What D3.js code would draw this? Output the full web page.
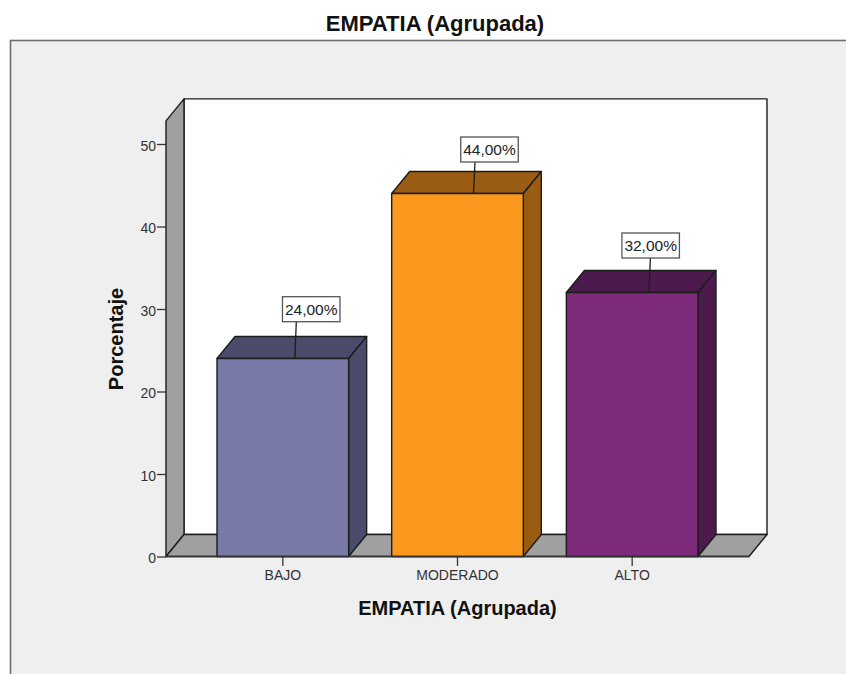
<!DOCTYPE html>
<html>
<head>
<meta charset="utf-8">
<script src="https://cdn.jsdelivr.net/npm/d3@7/dist/d3.min.js"></script>
<style>
html,body{margin:0;padding:0;background:#fff;overflow:hidden}
svg{display:block}
text{font-family:"Liberation Sans",Arial,sans-serif}
</style>
</head>
<body>
<svg id="chart" width="846" height="674"></svg>
<script>
const categories = ["BAJO", "MODERADO", "ALTO"];
const percentages = [24, 44, 32];
const valueLabels = ["24,00%", "44,00%", "32,00%"];
const yTicks = [0, 10, 20, 30, 40, 50];
const frontColors = ["#7a7aa8", "#fb991f", "#7d2a7b"];
const sideColors = ["#4b4b6b", "#995c12", "#4c1a4c"];
const chartTitle = "EMPATIA (Agrupada)";
const xTitle = "EMPATIA (Agrupada)";
const yTitle = "Porcentaje";

// Callout placement relative to each bar's centre and top edge
const calloutDx = [28.4, 32, 18.5];
const calloutRise = [61.8, 56.5, 59.5];
const leaderDx = [12, 16, 16.7];

const svg = d3.select("#chart");
const depthX = 18, depthY = 22;
const plot = {left: 166, right: 749, bottom: 556.5};

const y = d3.scaleLinear().domain([0, 50]).range([plot.bottom, 144]);
const yMax = 52.8;
const x = d3.scaleBand().domain(categories).range([plot.left, plot.right])
  .paddingInner(0.2464).paddingOuter(0.292);

const poly = (pts, fill) => svg.append("path")
  .attr("d", "M" + pts.map(p => p.join(",")).join("L") + "Z")
  .attr("fill", fill).attr("stroke", "#1c1c1c").attr("stroke-width", 1.4)
  .attr("stroke-linejoin", "round");

// Window background and grey chart frame
svg.append("rect").attr("x", 10.5).attr("y", 40.5).attr("width", 850).attr("height", 650)
  .attr("fill", "#efefef").attr("stroke", "#6e6e6e").attr("stroke-width", 1.6);

svg.append("text").attr("x", 435).attr("y", 31).attr("text-anchor", "middle")
  .attr("font-size", 22).attr("font-weight", "bold").attr("fill", "#111").text(chartTitle);

// Three-dimensional room: back wall, side wall and floor
const wallTop = y(yMax);
poly([[plot.left + depthX, wallTop - depthY], [plot.right + depthX, wallTop - depthY],
      [plot.right + depthX, plot.bottom - depthY], [plot.left + depthX, plot.bottom - depthY]], "#fff");
poly([[plot.left, wallTop], [plot.left + depthX, wallTop - depthY],
      [plot.left + depthX, plot.bottom - depthY], [plot.left, plot.bottom]], "#a0a0a0");
poly([[plot.left, plot.bottom], [plot.left + depthX, plot.bottom - depthY],
      [plot.right + depthX, plot.bottom - depthY], [plot.right, plot.bottom]], "#a0a0a0");

// Value axis
const yAxis = svg.append("g").attr("transform", `translate(${plot.left},0)`)
  .call(d3.axisLeft(y).tickValues(yTicks).tickSize(9).tickPadding(1).tickFormat(d3.format("d")));
yAxis.select(".domain").remove();
yAxis.selectAll("line").attr("stroke", "#333").attr("stroke-width", 1.3);
yAxis.selectAll("text").attr("font-size", 14).attr("fill", "#333").attr("dy", "0.46em")
  .attr("font-family", "'Liberation Sans',Arial,sans-serif");

// Bars drawn as front, top and side faces
categories.forEach((c, i) => {
  const x0 = x(c), x1 = x0 + x.bandwidth(), yt = y(percentages[i]);
  poly([[x0, yt], [x0 + depthX, yt - depthY], [x1 + depthX, yt - depthY], [x1, yt]], sideColors[i]);
  poly([[x1, yt], [x1 + depthX, yt - depthY], [x1 + depthX, plot.bottom - depthY], [x1, plot.bottom]], sideColors[i]);
  poly([[x0, yt], [x1, yt], [x1, plot.bottom], [x0, plot.bottom]], frontColors[i]);
});

// Category axis
const xAxis = svg.append("g").attr("transform", `translate(0,${plot.bottom})`)
  .call(d3.axisBottom(x).tickSize(9.5).tickPadding(4));
xAxis.select(".domain").attr("stroke", "#333").attr("stroke-width", 1.4)
  .attr("d", `M${plot.left},0H${plot.right}`);
xAxis.selectAll("line").attr("stroke", "#333").attr("stroke-width", 1.3);
xAxis.selectAll("text").attr("font-size", 14).attr("fill", "#333")
  .attr("font-family", "'Liberation Sans',Arial,sans-serif");

svg.append("text").attr("x", 457.5).attr("y", 615).attr("text-anchor", "middle")
  .attr("font-size", 20).attr("font-weight", "bold").attr("fill", "#111").text(xTitle);
svg.append("text").attr("transform", "translate(123,339) rotate(-90)").attr("text-anchor", "middle")
  .attr("font-size", 20).attr("font-weight", "bold").attr("fill", "#111").text(yTitle);

// Value callouts with leader lines
categories.forEach((c, i) => {
  const cx = x(c) + x.bandwidth() / 2, yt = y(percentages[i]);
  const boxW = 57.5, boxH = 25;
  const bx = cx + calloutDx[i] - boxW / 2, by = yt - calloutRise[i];
  svg.append("line").attr("x1", cx + leaderDx[i]).attr("y1", yt)
    .attr("x2", cx + leaderDx[i] + 1.5).attr("y2", by + boxH)
    .attr("stroke", "#1c1c1c").attr("stroke-width", 1.3);
  svg.append("rect").attr("x", bx).attr("y", by).attr("width", boxW).attr("height", boxH)
    .attr("fill", "#fff").attr("stroke", "#555").attr("stroke-width", 1.3);
  svg.append("text").attr("x", bx + boxW / 2).attr("y", by + 18).attr("text-anchor", "middle")
    .attr("font-size", 15.5).attr("fill", "#222").text(valueLabels[i]);
});
</script>
</body>
</html>
